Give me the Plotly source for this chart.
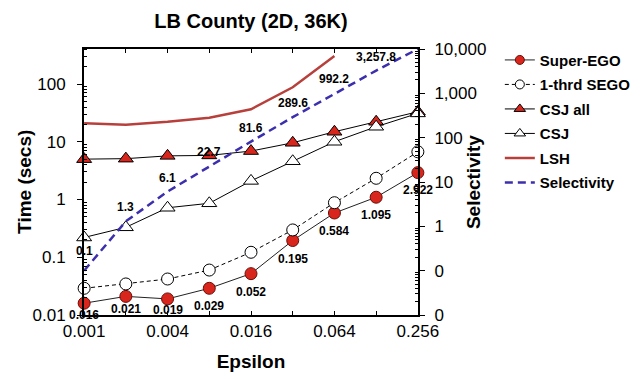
import math
import plotly.graph_objects as go

# Epsilon values (x axis, log base 2 steps)
epsilon = [0.001, 0.002, 0.004, 0.008, 0.016, 0.032, 0.064, 0.128, 0.256]
x_tick_text = ["0.001", "", "0.004", "", "0.016", "", "0.064", "", "0.256"]

# Run times in seconds
super_ego = [0.016, 0.021, 0.019, 0.029, 0.052, 0.195, 0.584, 1.095, 2.922]
third_sego = [0.029, 0.0345, 0.042, 0.060, 0.122, 0.297, 0.88, 2.33, 6.7]
csj_all = [5.0, 5.1, 5.7, 5.8, 6.9, 9.6, 14.9, 22.2, 33.1]
csj = [0.22, 0.33, 0.72, 0.86, 2.1, 4.6, 10.0, 18.2, 31.0]
lsh_eps = [0.001, 0.002, 0.004, 0.008, 0.016, 0.032, 0.064]
lsh = [20.9, 19.8, 22.2, 26.1, 36.5, 87.7, 305.0]

# Selectivity (right axis)
selectivity = [0.1, 1.3, 6.1, 22.7, 81.6, 289.6, 992.2, 3257.8, 10000.0]
sel_labeled = 8  # last point carries no label

left_tick_vals = [0.01, 0.1, 1, 10, 100]
left_tick_text = ["0.01", "0.1", "1", "10", "100"]
right_tick_vals = [0.01, 0.1, 1, 10, 100, 1000, 10000]
right_tick_text = ["0", "0", "1", "10", "100", "1,000", "10,000"]

FONT = "Liberation Sans, Arial, Helvetica, sans-serif"
RED = "#d9261c"
RED_EDGE = "#6b0d08"
LSH_COLOR = "#b8403c"
SEL_COLOR = "#3b2fae"

series = [
    dict(name="Super-EGO", x=epsilon, y=super_ego, mode="lines+markers",
         line=dict(color="#222222", width=1),
         symbol="circle", fill=RED, edge=RED_EDGE, size=12, lsize=9),
    dict(name="1-thrd SEGO", x=epsilon, y=third_sego, mode="lines+markers",
         line=dict(color="black", width=1, dash="4px,3px"),
         symbol="circle", fill="white", edge="black", size=12, lsize=9),
    dict(name="CSJ all", x=epsilon, y=csj_all, mode="lines+markers",
         line=dict(color="black", width=1),
         symbol="triangle-up", fill=RED, edge="black", size=13, lsize=10),
    dict(name="CSJ", x=epsilon, y=csj, mode="lines+markers",
         line=dict(color="black", width=1),
         symbol="triangle-up", fill="white", edge="black", size=13, lsize=10),
    dict(name="LSH", x=lsh_eps, y=lsh, mode="lines",
         line=dict(color=LSH_COLOR, width=2.5)),
    dict(name="Selectivity", x=epsilon, y=selectivity, mode="lines", yaxis="y2",
         line=dict(color=SEL_COLOR, width=2.5, dash="8px,5px")),
]

fig = go.Figure()
for i, s in enumerate(series):
    marker = None
    legend_marker = None
    if "symbol" in s:
        marker = dict(symbol=s["symbol"], size=s["size"], color=s["fill"],
                      line=dict(color=s["edge"], width=1))
        legend_marker = dict(symbol=s["symbol"], size=s["lsize"], color=s["fill"],
                             line=dict(color=s["edge"], width=1))
    fig.add_trace(go.Scatter(
        x=s["x"], y=s["y"], name=s["name"], mode=s["mode"], line=s["line"],
        marker=marker, yaxis=s.get("yaxis", "y"), cliponaxis=False,
        showlegend=False,
    ))
    # legend entry with smaller symbols
    fig.add_trace(go.Scatter(
        x=[None], y=[None], name=f"<b>{s['name']}</b>", mode=s["mode"],
        line=s["line"], marker=legend_marker, legendgroup=f"g{i}",
        showlegend=True,
    ))

# Value labels
label_font = dict(family=FONT, size=12, color="black")
sego_shift = [-12, -13, -11, -18, -18, -18, -18, -18, -17]
for xv, yv, sh in zip(epsilon, super_ego, sego_shift):
    fig.add_annotation(x=math.log10(xv), y=math.log10(yv), xref="x", yref="y",
                       text=f"<b>{yv:.3f}</b>", showarrow=False, yshift=sh,
                       font=label_font)
for i, (xv, yv) in enumerate(zip(epsilon[:sel_labeled], selectivity[:sel_labeled])):
    fig.add_annotation(x=math.log10(xv), y=math.log10(yv), xref="x", yref="y2",
                       text=f"<b>{yv:,.1f}</b>", showarrow=False,
                       yshift=20 if i == 0 else 14, font=label_font)

# Axis titles on the two y axes
title_font = dict(family=FONT, size=19, color="black")
fig.add_annotation(text="<b>Time (secs)</b>", xref="paper", yref="paper",
                   x=-0.18, y=0.5, textangle=-90, showarrow=False,
                   xanchor="center", yanchor="middle", font=title_font)
fig.add_annotation(text="<b>Selectivity</b>", xref="paper", yref="paper",
                   x=1.165, y=0.5, textangle=-90, showarrow=False,
                   xanchor="center", yanchor="middle", font=title_font)

left_minor = [k * 10 ** d for d in range(-2, 3) for k in range(2, 10) if k * 10 ** d < 410]
right_minor = [k * 10 ** d for d in range(-2, 4) for k in range(2, 10)]

tick_font = dict(family=FONT, size=17, color="black")

fig.update_layout(
    width=644, height=379,
    margin=dict(l=84, r=226, t=49, b=64, autoexpand=False),
    paper_bgcolor="white", plot_bgcolor="white",
    title=dict(text="<b>LB County (2D, 36K)</b>", x=0.5, xref="paper",
               y=0.945, yanchor="middle", font=dict(family=FONT, size=20, color="black")),
    xaxis=dict(
        type="log", range=[math.log10(0.001) - 0.001, math.log10(0.256) + 0.001],
        tickmode="array", tickvals=epsilon, ticktext=x_tick_text,
        ticks="inside", ticklen=4, tickcolor="black", ticklabelstandoff=0,
        showline=True, linecolor="black", linewidth=2, mirror="ticks",
        showgrid=False, zeroline=False, tickfont=tick_font, automargin=False,
        title=dict(text="<b>Epsilon</b>", font=title_font, standoff=14),
    ),
    yaxis=dict(
        type="log", range=[-2, math.log10(404)],
        tickmode="array", tickvals=left_tick_vals, ticktext=left_tick_text,
        ticks="outside", ticklen=5, tickcolor="black", ticklabelstandoff=8,
        minor=dict(tickmode="array", tickvals=left_minor, ticks="inside",
                   ticklen=3, tickcolor="black", showgrid=False),
        showline=True, linecolor="black", linewidth=2, showgrid=False,
        zeroline=False, tickfont=tick_font, automargin=False,
    ),
    yaxis2=dict(
        type="log", range=[-2, 4], overlaying="y", side="right",
        tickmode="array", tickvals=right_tick_vals, ticktext=right_tick_text,
        ticks="outside", ticklen=5, tickcolor="black", ticklabelstandoff=6,
        minor=dict(tickmode="array", tickvals=right_minor, ticks="inside",
                   ticklen=3, tickcolor="black", showgrid=False),
        showline=True, linecolor="black", linewidth=2, showgrid=False,
        zeroline=False, tickfont=tick_font, automargin=False,
    ),
    legend=dict(x=1.245, y=1.02, xanchor="left", yanchor="top",
                font=dict(family=FONT, size=15, color="black"),
                traceorder="grouped", tracegroupgap=2,
                bgcolor="rgba(0,0,0,0)", itemsizing="trace"),
    showlegend=True,
)

fig.write_html("out.html")
